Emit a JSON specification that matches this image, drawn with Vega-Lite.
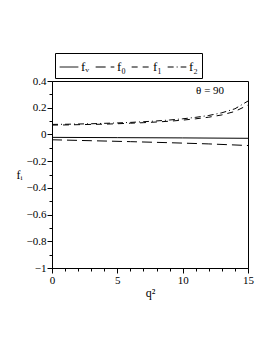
{
  "$schema": "https://vega.github.io/schema/vega-lite/v6.json",
  "autosize": {"type": "none"},
  "width": 196,
  "height": 187,
  "padding": {"left": 52, "top": 81, "right": 25, "bottom": 85},
  "config": {
    "font": "Liberation Serif",
    "view": {"stroke": "black", "strokeWidth": 1},
    "axis": {"labelFont": "Liberation Serif", "titleFont": "Liberation Serif", "labelFontSize": 11, "titleFontSize": 12, "domainColor": "black", "tickColor": "black", "labelColor": "black", "titleColor": "black", "grid": false, "titleFontWeight": "normal", "labelOverlap": false, "labelFlush": false},
    "legend": {"labelColor": "black", "symbolStrokeColor": "black", "symbolOpacity": 1, "strokeColor": "black"}
  },
  "datasets": {
    "curves": [
      {"q": 0, "f": -0.022, "s": "fᵥ"}, {"q": 5, "f": -0.024, "s": "fᵥ"}, {"q": 10, "f": -0.026, "s": "fᵥ"}, {"q": 15, "f": -0.029, "s": "fᵥ"},
      {"q": 0, "f": -0.04, "s": "f₀"}, {"q": 3, "f": -0.047, "s": "f₀"}, {"q": 6, "f": -0.054, "s": "f₀"}, {"q": 9, "f": -0.062, "s": "f₀"}, {"q": 12, "f": -0.071, "s": "f₀"}, {"q": 15, "f": -0.083, "s": "f₀"},
      {"q": 0, "f": 0.070, "s": "f₁"}, {"q": 1, "f": 0.071, "s": "f₁"}, {"q": 2, "f": 0.073, "s": "f₁"}, {"q": 3, "f": 0.075, "s": "f₁"}, {"q": 4, "f": 0.077, "s": "f₁"}, {"q": 5, "f": 0.080, "s": "f₁"}, {"q": 6, "f": 0.084, "s": "f₁"}, {"q": 7, "f": 0.088, "s": "f₁"}, {"q": 8, "f": 0.093, "s": "f₁"}, {"q": 9, "f": 0.099, "s": "f₁"}, {"q": 10, "f": 0.107, "s": "f₁"}, {"q": 11, "f": 0.117, "s": "f₁"}, {"q": 12, "f": 0.129, "s": "f₁"}, {"q": 13, "f": 0.146, "s": "f₁"}, {"q": 14, "f": 0.172, "s": "f₁"}, {"q": 15, "f": 0.22, "s": "f₁"},
      {"q": 0, "f": 0.075, "s": "f₂"}, {"q": 1, "f": 0.076, "s": "f₂"}, {"q": 2, "f": 0.078, "s": "f₂"}, {"q": 3, "f": 0.080, "s": "f₂"}, {"q": 4, "f": 0.083, "s": "f₂"}, {"q": 5, "f": 0.086, "s": "f₂"}, {"q": 6, "f": 0.090, "s": "f₂"}, {"q": 7, "f": 0.095, "s": "f₂"}, {"q": 8, "f": 0.101, "s": "f₂"}, {"q": 9, "f": 0.108, "s": "f₂"}, {"q": 10, "f": 0.117, "s": "f₂"}, {"q": 11, "f": 0.128, "s": "f₂"}, {"q": 12, "f": 0.142, "s": "f₂"}, {"q": 13, "f": 0.162, "s": "f₂"}, {"q": 14, "f": 0.192, "s": "f₂"}, {"q": 15, "f": 0.25, "s": "f₂"}
    ],
    "note": [{"q": 12.1, "f": 0.325, "t": "θ = 90"}]
  },
  "layer": [
    {
      "data": {"name": "curves"},
      "mark": {"type": "line", "color": "black", "strokeWidth": 1},
      "encoding": {
        "x": {"field": "q", "type": "quantitative", "scale": {"domain": [0, 15], "nice": false},
          "axis": {"title": "q²", "values": [0,1,2,3,4,5,6,7,8,9,10,11,12,13,14,15], "tickCount": 100,
            "labelOverlap": false, "labelBound": false,
            "labelExpr": "datum.value % 5 == 0 ? format(datum.value, 'd') : ''",
            "tickSize": {"condition": {"test": "datum.value % 5 == 0", "value": 5}, "value": 3},
            "titlePadding": 2, "labelPadding": 1}},
        "y": {"field": "f", "type": "quantitative", "scale": {"domain": [-1, 0.4], "nice": false, "zero": false},
          "axis": {"title": "fᵢ", "titleAngle": 0, "titleAlign": "right", "titleBaseline": "middle", "titleX": -30, "titleY": 93,
            "labelOverlap": false, "labelBound": false, "tickCount": 100,
            "values": [-1,-0.9,-0.8,-0.7,-0.6,-0.5,-0.4,-0.3,-0.2,-0.1,0,0.1,0.2,0.3,0.4],
            "labelExpr": "abs(round(datum.value*10)) % 2 == 0 ? format(datum.value, '.1~f') : ''",
            "tickSize": {"condition": {"test": "abs(round(datum.value*10)) % 2 == 0", "value": 5}, "value": 3},
            "labelPadding": 1}},
        "strokeDash": {"field": "s", "type": "nominal",
          "scale": {"domain": ["fᵥ", "f₀", "f₁", "f₂"], "range": [[1, 0], [10, 5], [6, 5], [6, 3, 1, 3]]},
          "legend": {"title": null, "orient": "none", "legendX": 3, "legendY": -28, "direction": "horizontal",
            "strokeColor": "black", "padding": 4, "symbolType": "stroke", "symbolSize": 350, "symbolStrokeWidth": 1,
            "symbolStrokeColor": "black", "labelFont": "Liberation Serif", "labelFontSize": 13, "columnPadding": 3, "labelOffset": 2}}
      }
    },
    {
      "data": {"name": "note"},
      "mark": {"type": "text", "font": "Liberation Serif", "fontSize": 11, "color": "black"},
      "encoding": {
        "x": {"field": "q", "type": "quantitative"},
        "y": {"field": "f", "type": "quantitative"},
        "text": {"field": "t"}
      }
    }
  ]
}
